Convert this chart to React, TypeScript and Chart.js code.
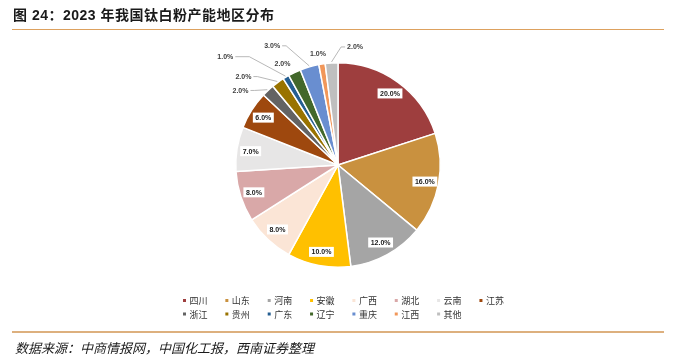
import React, { useEffect, useRef } from "react";
import { Chart, registerables } from "chart.js";

Chart.register(...registerables);

const regions = ["四川", "山东", "河南", "安徽", "广西", "湖北", "云南", "江苏", "浙江", "贵州", "广东", "辽宁", "重庆", "江西", "其他"];
const shares = [20, 16, 12, 10, 8, 8, 7, 6, 2, 2, 1, 2, 3, 1, 2];
const sliceColors = [
  "#9E3E3E", "#C9913F", "#A5A5A5", "#FFC000", "#FBE5D6", "#D9A8A8", "#E7E6E6", "#9E480E",
  "#636363", "#997300", "#255E91", "#43682B", "#698ED0", "#F1975A", "#BFBFBF",
];
// placement of the outside labels of the small slices (offset of label centre from slice edge point)
const outerLabelPlacement: Record<number, { dx: number; dy: number; elbow: number; line: boolean }> = {
  8: { dx: -27.5, dy: 0, elbow: 4, line: true },
  9: { dx: -34.5, dy: -5.7, elbow: 4, line: true },
  10: { dx: -60.6, dy: -20.3, elbow: 14, line: true },
  11: { dx: -12, dy: -8.8, elbow: 0, line: false },
  12: { dx: -37.3, dy: -21, elbow: 4, line: true },
  13: { dx: -4, dy: -10, elbow: 0, line: false },
  14: { dx: 23.5, dy: -16, elbow: 4, line: true },
};

const TITLE = "图 24：2023 年我国钛白粉产能地区分布";
const SOURCE = "数据来源：中商情报网，中国化工报，西南证券整理";

const labelPlugin = {
  id: "sliceLabels",
  afterDatasetsDraw(chart: any) {
    const ctx = chart.ctx as CanvasRenderingContext2D;
    const meta = chart.getDatasetMeta(0);
    const data = chart.data.datasets[0].data as number[];
    ctx.save();
    ctx.font = "bold 7px 'Liberation Sans', Arial, sans-serif";
    ctx.textAlign = "center";
    ctx.textBaseline = "middle";
    meta.data.forEach((arc: any, i: number) => {
      const { x, y, startAngle, endAngle, outerRadius } = arc.getProps(["x", "y", "startAngle", "endAngle", "outerRadius"], true);
      const mid = (startAngle + endAngle) / 2;
      const text = data[i].toFixed(1) + "%";
      const tw = ctx.measureText(text).width;
      const place = outerLabelPlacement[i];
      if (!place) {
        const r = outerRadius * 0.865;
        const lx = x + Math.cos(mid) * r;
        const ly = y + Math.sin(mid) * r;
        const w = tw + 5;
        const h = 10;
        ctx.fillStyle = "#FFFFFF";
        ctx.fillRect(lx - w / 2, ly - h / 2, w, h);
        ctx.fillStyle = "#1A1A1A";
        ctx.fillText(text, lx, ly + 0.5);
      } else {
        const ex = x + Math.cos(mid) * outerRadius;
        const ey = y + Math.sin(mid) * outerRadius;
        const lx = ex + place.dx;
        const ly = ey + place.dy;
        if (place.line) {
          const leftSide = place.dx < 0;
          const sx = leftSide ? lx + tw / 2 + 2 : lx - tw / 2 - 2;
          const bx = leftSide ? sx + place.elbow : sx - place.elbow;
          const tx = x + Math.cos(mid) * (outerRadius + 1);
          const ty = y + Math.sin(mid) * (outerRadius + 1);
          ctx.strokeStyle = "#A6A6A6";
          ctx.lineWidth = 0.8;
          ctx.beginPath();
          ctx.moveTo(sx, ly);
          ctx.lineTo(bx, ly);
          ctx.lineTo(tx, ty);
          ctx.stroke();
        }
        ctx.fillStyle = "#404040";
        ctx.fillText(text, lx, ly + 0.5);
      }
    });
    ctx.restore();
  },
};

const legendPlugin = {
  id: "gridLegend",
  afterDraw(chart: any) {
    const ctx = chart.ctx as CanvasRenderingContext2D;
    const labels = chart.data.labels as string[];
    const colors = chart.data.datasets[0].backgroundColor as string[];
    const startX = 184.5;
    const colW = 42.35;
    const row0 = 300.5;
    const rowH = 13.5;
    ctx.save();
    ctx.font = "9px 'Noto Sans CJK SC', sans-serif";
    ctx.textBaseline = "middle";
    ctx.textAlign = "left";
    labels.forEach((lab, i) => {
      const col = i % 8;
      const row = Math.floor(i / 8);
      const mx = startX + col * colW;
      const my = row0 + row * rowH;
      ctx.fillStyle = colors[i];
      ctx.fillRect(mx - 1.5, my - 1.5, 3, 3);
      ctx.fillStyle = "#333333";
      ctx.fillText(lab, mx + 5, my + 0.5);
    });
    ctx.restore();
  },
};

export default function App() {
  const canvasRef = useRef<HTMLCanvasElement | null>(null);

  useEffect(() => {
    if (!canvasRef.current) return;
    const chart = new Chart(canvasRef.current, {
      type: "pie",
      data: {
        labels: regions,
        datasets: [
          {
            data: shares,
            backgroundColor: sliceColors,
            borderColor: "#FFFFFF",
            borderWidth: 1.5,
          },
        ],
      },
      options: {
        responsive: false,
        animation: false,
        layout: { padding: { left: 235, right: 244, top: 62, bottom: 89 } },
        plugins: {
          legend: { display: false },
          tooltip: { enabled: false },
          title: { display: false },
        },
      },
      plugins: [labelPlugin, legendPlugin],
    });
    return () => chart.destroy();
  }, []);

  return (
    <div style={{ position: "fixed", left: 0, top: 0, width: 685, height: 357, background: "#FFFFFF", overflow: "hidden" }}>
      <canvas ref={canvasRef} width={685} height={357} style={{ position: "absolute", left: 0, top: 0 }} />
      <div
        style={{
          position: "absolute",
          left: 13,
          top: 6,
          height: 18,
          lineHeight: "18px",
          fontSize: 14,
          fontWeight: "bold",
          fontFamily: "'Liberation Sans', 'Noto Sans CJK SC', sans-serif",
          color: "#1A1A1A",
          whiteSpace: "nowrap",
          letterSpacing: 0.5,
        }}
      >
        {TITLE}
      </div>
      <div style={{ position: "absolute", left: 12, top: 28.5, width: 652, height: 1.5, background: "#DDA15E" }} />
      <div style={{ position: "absolute", left: 12, top: 331, width: 652, height: 1.5, background: "#DDB07E" }} />
      <div
        style={{
          position: "absolute",
          left: 15,
          top: 339,
          height: 18,
          lineHeight: "18px",
          fontSize: 13,
          fontStyle: "italic",
          fontFamily: "'Noto Sans CJK SC', sans-serif",
          color: "#1A1A1A",
          whiteSpace: "nowrap",
        }}
      >
        {SOURCE}
      </div>
    </div>
  );
}
